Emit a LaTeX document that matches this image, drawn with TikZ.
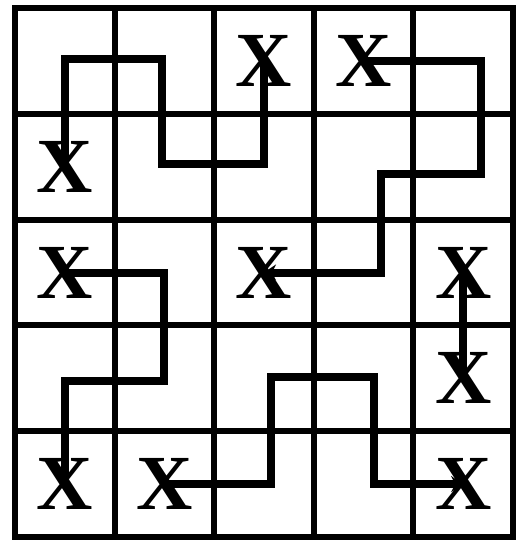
\documentclass[tikz,border=0pt]{standalone}
\usepackage{fontspec}
\setmainfont{Liberation Serif}
\usetikzlibrary{arrows.meta}
\tikzset{
  gridline/.style={line width=6pt, color=black, line cap=rect},
  route/.style={line width=8pt, color=black, line join=miter,
    -{Stealth[length=12pt,width=16pt]}},
  xmark/.style={font=\fontsize{78}{78}\selectfont\bfseries, inner sep=0pt}
}

\begin{document}
\begin{tikzpicture}[x=99.6pt, y=-105.8pt]
  \useasboundingbox (-0.1506,-0.0756) rectangle (5.0803,5.0284);
  % Grid
  \foreach \i in {0,1,2,3,4,5} {
    \draw[gridline] (\i,0) -- (\i,5);
    \draw[gridline] (0,\i) -- (5,\i);
  }
  % Marks
  \node[xmark] (x13) at (2.5,0.5) {X};
  \node[xmark] (x14) at (3.5,0.5) {X};
  \node[xmark] (x21) at (0.5,1.5) {X};
  \node[xmark] (x31) at (0.5,2.5) {X};
  \node[xmark] (x33) at (2.5,2.5) {X};
  \node[xmark] (x35) at (4.5,2.5) {X};
  \node[xmark] (x45) at (4.5,3.5) {X};
  \node[xmark] (x51) at (0.5,4.5) {X};
  \node[xmark] (x52) at (1.5,4.5) {X};
  \node[xmark] (x55) at (4.5,4.5) {X};
  % Routes
  \draw[route] (x14.center) -- (4.68,0.5) |- (3.67,1.57) |- (x33.center);
  \draw[route] (x13.center) |- (1.48,1.47) |- (0.5,0.48) -- (x21.center);
  \draw[route] (x31.center) -| (1.5,3.53) -| (x51.center);
  \draw[route] (x52.center) -| (2.57,3.49) -| (3.6,4.5) -- (x55.center);
  \draw[route] (x35.center) -- (x45.center);
\end{tikzpicture}
\end{document}
